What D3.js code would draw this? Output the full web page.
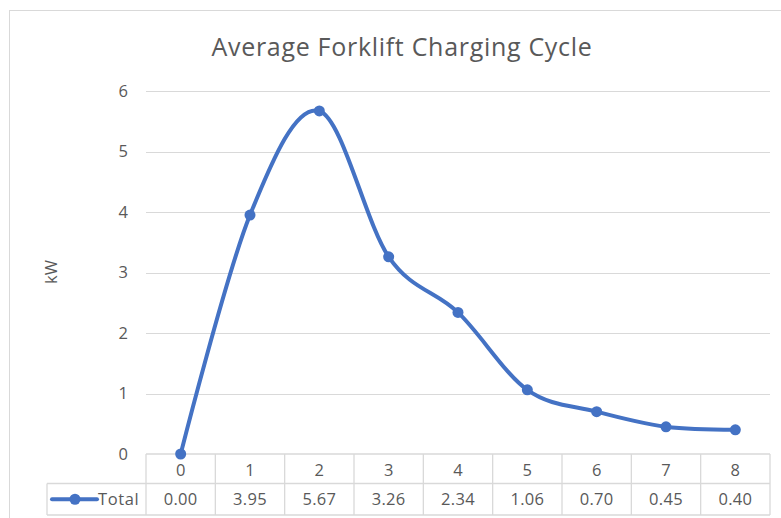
<!DOCTYPE html>
<html>
<head>
<meta charset="utf-8">
<script src="https://cdn.jsdelivr.net/npm/d3@7"></script>
<style>
  body { margin: 0; background: #fff; }
  svg { display: block; font-family: "Open Sans", "Noto Sans", sans-serif; }
</style>
</head>
<body>
<svg id="chart" width="781" height="518"></svg>
<script>
// chart data
var categories = ["0", "1", "2", "3", "4", "5", "6", "7", "8"];
var totals = [0.00, 3.95, 5.67, 3.26, 2.34, 1.06, 0.70, 0.45, 0.40];
var yTicks = [0, 1, 2, 3, 4, 5, 6];
var seriesName = "Total";
var chartTitle = "Average Forklift Charging Cycle";
var yTitle = "kW";

function draw_chart() {
    var svg = d3.select("#chart"),
        margins = {"left": 146, "right": 11, "top": 91, "bottom": 64},
        width = 781,
        height = 518,
        color = "#4472C4",
        grid = "#d9d9d9",
        textColor = "#595959",
        fs = "16.5px";

    // chart area border
    svg.append("rect")
        .attr("x", 9.5).attr("y", 10.5)
        .attr("width", 790).attr("height", 530)
        .attr("fill", "#fff").attr("stroke", grid);

    svg.append("text")
        .attr("x", 402).attr("y", 56)
        .attr("text-anchor", "middle")
        .attr("fill", textColor)
        .style("font-size", "25px")
        .style("letter-spacing", "0.7px")
        .text(chartTitle);

    var x = d3.scaleBand().domain(categories)
            .range([margins.left, width - margins.right]),
        y = d3.scaleLinear().domain([0, 6])
            .range([height - margins.bottom, margins.top]);

    // horizontal gridlines
    svg.append("g").selectAll("line")
        .data(yTicks.filter(d => d > 0))
        .enter().append("line")
        .attr("x1", margins.left).attr("x2", width - margins.right)
        .attr("y1", d => Math.round(y(d)) + 0.5).attr("y2", d => Math.round(y(d)) + 0.5)
        .attr("stroke", grid).attr("stroke-width", 1.2);

    // y axis labels
    svg.append("g").selectAll("text")
        .data(yTicks)
        .enter().append("text")
        .attr("x", 128).attr("y", d => y(d))
        .attr("dy", "0.35em")
        .attr("text-anchor", "end")
        .attr("fill", textColor)
        .style("font-size", fs)
        .text(d => d);

    svg.append("text")
        .attr("transform", "translate(" + [57, 272] + ") rotate(-90)")
        .attr("text-anchor", "middle")
        .attr("fill", textColor)
        .style("font-size", fs)
        .text(yTitle);

    // data table
    var rowTop = y(0), rowMid = rowTop + 29.5, rowBot = rowMid + 31.5,
        legendLeft = 47,
        tbl = svg.append("g").attr("stroke", grid).attr("stroke-width", 1.3);

    tbl.append("line").attr("x1", margins.left).attr("x2", width - margins.right)
        .attr("y1", rowTop).attr("y2", rowTop);
    tbl.append("line").attr("x1", legendLeft).attr("x2", width - margins.right)
        .attr("y1", rowMid).attr("y2", rowMid);
    tbl.append("line").attr("x1", legendLeft).attr("x2", width - margins.right)
        .attr("y1", rowBot).attr("y2", rowBot);
    tbl.append("line").attr("x1", legendLeft).attr("x2", legendLeft)
        .attr("y1", rowMid).attr("y2", rowBot);
    tbl.selectAll(".vline")
        .data(categories.concat(["end"]))
        .enter().append("line").classed("vline", true)
        .attr("x1", (d, i) => margins.left + i * x.bandwidth())
        .attr("x2", (d, i) => margins.left + i * x.bandwidth())
        .attr("y1", rowTop).attr("y2", rowBot);

    svg.append("g").selectAll("text")
        .data(categories)
        .enter().append("text")
        .attr("x", d => x(d) + x.bandwidth() / 2)
        .attr("y", (rowTop + rowMid) / 2 + 1)
        .attr("dy", "0.35em")
        .attr("text-anchor", "middle")
        .attr("fill", textColor)
        .style("font-size", fs)
        .text(d => d);

    svg.append("g").selectAll("text")
        .data(totals)
        .enter().append("text")
        .attr("x", (d, i) => x(categories[i]) + x.bandwidth() / 2)
        .attr("y", (rowMid + rowBot) / 2)
        .attr("dy", "0.35em")
        .attr("text-anchor", "middle")
        .attr("fill", textColor)
        .style("font-size", fs)
        .style("letter-spacing", "0.3px")
        .text(d => d.toFixed(2));

    // legend key in table
    var ly = (rowMid + rowBot) / 2;
    svg.append("line")
        .attr("x1", 52).attr("x2", 97).attr("y1", ly).attr("y2", ly)
        .attr("stroke", color).attr("stroke-width", 4).attr("stroke-linecap", "round");
    svg.append("circle").attr("cx", 75).attr("cy", ly).attr("r", 5.5).attr("fill", color);
    svg.append("text")
        .attr("x", 98).attr("y", ly).attr("dy", "0.35em")
        .attr("fill", textColor)
        .style("font-size", fs)
        .style("letter-spacing", "0.6px")
        .text(seriesName);

    // smoothed line
    var line = d3.line()
        .x((d, i) => x(categories[i]) + x.bandwidth() / 2)
        .y(d => y(d))
        .curve(d3.curveCardinal.tension(0));

    svg.append("path")
        .datum(totals)
        .attr("fill", "none")
        .attr("stroke", color)
        .attr("stroke-width", 4)
        .attr("stroke-linejoin", "round")
        .attr("stroke-linecap", "round")
        .attr("d", line);

    svg.append("g").selectAll("circle")
        .data(totals)
        .enter().append("circle")
        .attr("cx", (d, i) => x(categories[i]) + x.bandwidth() / 2)
        .attr("cy", d => y(d))
        .attr("r", 5.5)
        .attr("fill", color);
}

draw_chart();
</script>
</body>
</html>
